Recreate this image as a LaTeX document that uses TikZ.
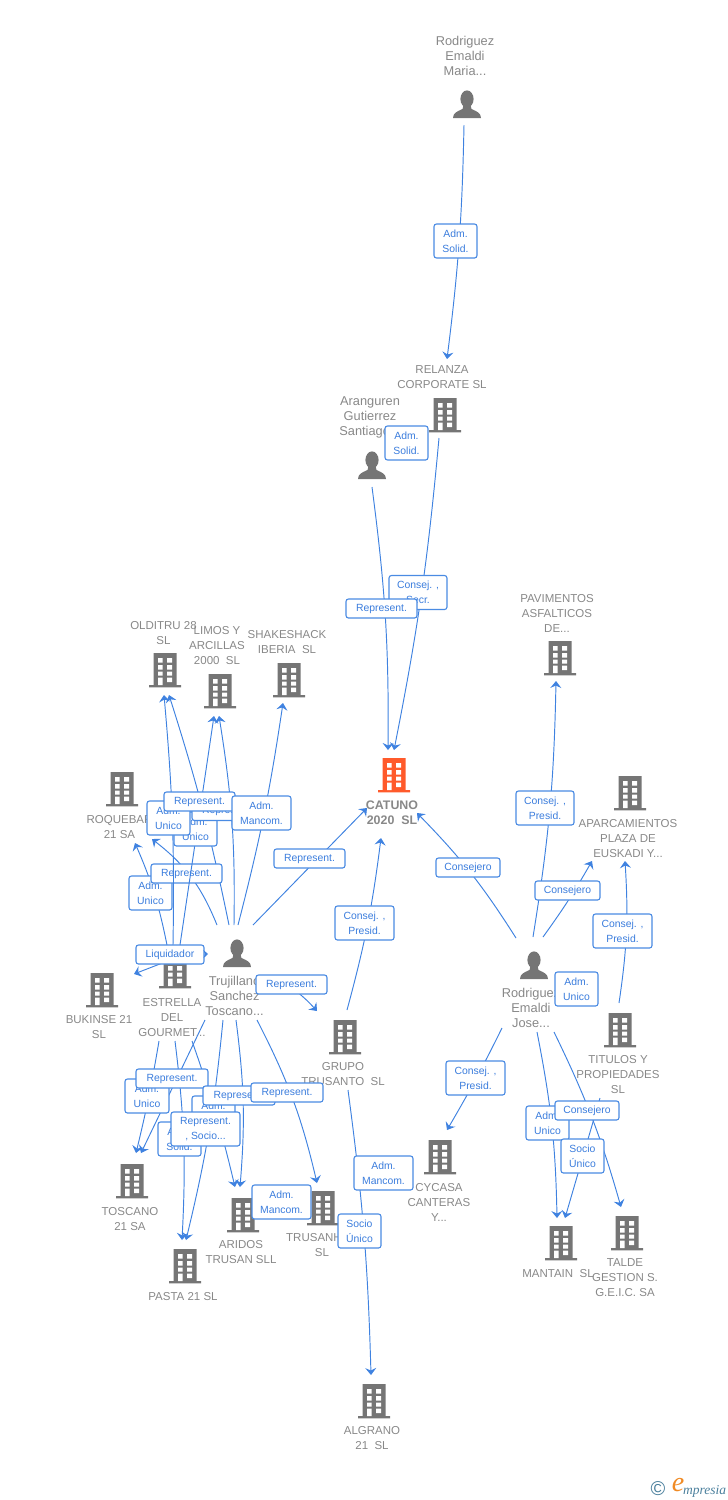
\documentclass[tikz,border=0pt]{standalone}
\usepackage{fontspec}
\setmainfont{Liberation Sans}
\newfontfamily\logofont{Liberation Serif}
\usetikzlibrary{arrows.meta}
\definecolor{iconGray}{HTML}{757575}
\definecolor{nameGray}{HTML}{888888}
\definecolor{linkBlue}{HTML}{3F82E0}
\definecolor{tagText}{HTML}{3B7DDD}
\definecolor{tagLine}{HTML}{4A8BE3}
\definecolor{catunoOrange}{HTML}{FF5A2B}
\definecolor{logoBlue}{HTML}{4A7F9C}
\definecolor{logoOrange}{HTML}{F08A24}
\tikzset{
  building/.style={minimum width=33pt,minimum height=35pt,inner sep=0pt,path picture={
    \begin{scope}[shift={(path picture bounding box.center)}]
    \fill[#1] (-11.5,-17) rectangle (11.5,15) (-16,15) rectangle (16,17.4);
    \fill[white] (-7,-12) rectangle (-2.5,-7.5) (2,-12) rectangle (7,-7.5)
      (-7,-5) rectangle (-2.5,-.5) (2,-5) rectangle (7,-.5)
      (-7,1.5) rectangle (-2.5,5.5) (2,1.5) rectangle (7,5.5)
      (-7,7.5) rectangle (-2.5,15) (2,7.5) rectangle (7,12);
    \end{scope}}},
  building/.default=iconGray,
  person/.style={minimum width=29pt,minimum height=29pt,inner sep=0pt,path picture={
    \begin{scope}[shift={(path picture bounding box.center)}]
    \fill[iconGray] (0,-5) ellipse (6.6 and 8.6);
    \fill[iconGray] (-14,14) .. controls (-14,9) and (-10,7.5) .. (-4.5,5) -- (-3.5,1) -- (3.5,1) -- (4.5,5) .. controls (10,7.5) and (14,9) .. (14,14) -- cycle;
    \end{scope}}},
  caption/.style={text=nameGray,align=center,inner sep=0pt,yshift=-1pt,font=\fontsize{11.5}{15}\selectfont},
  personcaption/.style={caption,yshift=1pt,font=\fontsize{12.8}{15}\selectfont},
  link/.style={draw=linkBlue,line width=.95pt,-{Stealth[length=7pt,width=11pt,inset=2.5pt]}},
  tag/.style={draw=tagLine,fill=white,line width=1.1pt,rounded corners=2.5pt,text=tagText,align=center,
    inner sep=0pt,minimum width=#1,minimum height=19pt,font=\fontsize{10.4}{15}\selectfont},
  tagtall/.style={tag=#1,minimum height=34pt},
}
\begin{document}
\begin{tikzpicture}[x=1pt,y=-1pt]
\useasboundingbox (0,0) rectangle (728,1500);
% people
\node[person] (maria) at (467,104) {};
\node[personcaption] (mariaName) at (465,56) {Rodriguez\\Emaldi\\Maria...};
\node[person] (aranguren) at (372,465) {};
\node[personcaption] (arangurenName) at (370,417) {Aranguren\\Gutierrez\\Santiago...};
\node[person] (trujillano) at (237,953) {};
\node[personcaption] (trujillanoName) at (234.5,996) {Trujillano\\Sanchez\\Toscano...};
\node[person] (jose) at (534,965) {};
\node[personcaption] (joseName) at (531,1008) {Rodriguez\\Emaldi\\Jose...};
% companies
\node[building] (relanza) at (445,415) {};
\node[caption] (relanzaName) at (442,376.5) {RELANZA\\CORPORATE SL};
\node[building=catunoOrange] (catuno) at (394,775) {};
\node[caption,font=\fontsize{12.4}{15}\selectfont\bfseries] (catunoName) at (392,811.5) {CATUNO\\2020\ \ SL};
\node[building] (pavimentos) at (560,658) {};
\node[caption] (pavimentosName) at (557,612) {PAVIMENTOS\\ASFALTICOS\\DE...};
\node[building] (aparcamientos) at (630,793) {};
\node[caption] (aparcamientosName) at (628,838) {APARCAMIENTOS\\PLAZA DE\\EUSKADI Y...};
\node[building] (titulos) at (620,1030) {};
\node[caption] (titulosName) at (618,1074) {TITULOS Y\\PROPIEDADES\\SL};
\node[building] (grupo) at (345,1037) {};
\node[caption] (grupoName) at (343,1073.5) {GRUPO\\TRUSANTO\ \ SL};
\node[building] (cycasa) at (440,1157) {};
\node[caption] (cycasaName) at (439,1201) {CYCASA\\CANTERAS\\Y...};
\node[building] (mantain) at (561,1243) {};
\node[caption] (mantainName) at (558,1273) {MANTAIN\ \ SL};
\node[building] (talde) at (627,1233) {};
\node[caption] (taldeName) at (625,1277) {TALDE\\GESTION S.\\G.E.I.C. SA};
\node[building] (algrano) at (374,1401) {};
\node[caption] (algranoName) at (372,1437.5) {ALGRANO\\21\ \ SL};
\node[building] (trusanh) at (323,1208) {};
\node[caption] (trusanhName) at (322,1244.5) {TRUSANH\phantom{ER}\\SL};
\node[building] (olditru) at (165,670) {};
\node[caption] (olditruName) at (163.5,632.5) {OLDITRU 28\\SL};
\node[building] (limos) at (220,691) {};
\node[caption] (limosName) at (217,645) {LIMOS Y\\ARCILLAS\\2000\ \ SL};
\node[building] (shakeshack) at (289,680) {};
\node[caption] (shakeshackName) at (287,641.5) {SHAKESHACK\\IBERIA\ \ SL};
\node[building] (roquebar) at (122,789) {};
\node[caption] (roquebarName) at (119.5,826.5) {ROQUEBAR\\21 SA};
\node[building] (bukinse) at (102,990) {};
\node[caption] (bukinseName) at (99,1026.5) {BUKINSE 21\\SL};
\node[building] (estrella) at (175,971) {};
\node[caption] (estrellaName) at (172,1017) {ESTRELLA\\DEL\\GOURMET...};
\node[building] (toscano) at (132,1181) {};
\node[caption] (toscanoName) at (130,1218.5) {TOSCANO\\21 SA};
\node[building] (aridos) at (243,1215) {};
\node[caption] (aridosName) at (241,1251.5) {ARIDOS\\TRUSAN SLL};
\node[building] (pasta) at (185,1266) {};
\node[caption] (pastaName) at (183,1296) {PASTA 21 SL};
% free ends of the links
\coordinate (mariaOut) at (464,125);
\coordinate (relanzaIn) at (447,359);
\coordinate (arangurenOut) at (372,487);
\coordinate (relanzaOut) at (439,438);
\coordinate (catunoInA) at (388,750);
\coordinate (catunoInB) at (394,750);
\coordinate (catunoInC) at (367,808);
\coordinate (catunoInD) at (381,838);
\coordinate (catunoInE) at (417,813);
\coordinate (pavimentosIn) at (556,681);
\coordinate (aparcamientosInA) at (592,861);
\coordinate (aparcamientosInB) at (625,861);
\coordinate (titulosTop) at (619,1003);
\coordinate (titulosOut) at (600,1098);
\coordinate (grupoTop) at (347,1010);
\coordinate (grupoOut) at (348,1090);
\coordinate (grupoIn) at (317,1011);
\coordinate (algranoIn) at (371,1375);
\coordinate (joseA) at (516,938);
\coordinate (joseB) at (533,937);
\coordinate (joseC) at (543,937);
\coordinate (joseD) at (502,1028);
\coordinate (joseE) at (537,1032);
\coordinate (joseF) at (554,1032);
\coordinate (cycasaIn) at (447,1130);
\coordinate (mantainInA) at (557,1218);
\coordinate (mantainInB) at (565,1218);
\coordinate (taldeIn) at (621,1207);
\coordinate (truA) at (253,925);
\coordinate (truB) at (238,925);
\coordinate (truC) at (234,925);
\coordinate (truD) at (229,925);
\coordinate (truE) at (217,925);
\coordinate (truF) at (205,1020);
\coordinate (truG) at (223,1020);
\coordinate (truH) at (236,1020);
\coordinate (truI) at (257,1020);
\coordinate (truJ) at (295,990);
\coordinate (estrellaA) at (173,945);
\coordinate (estrellaB) at (180,945);
\coordinate (estrellaC) at (167,945);
\coordinate (estrellaD) at (165,962);
\coordinate (estrellaE) at (159,1041);
\coordinate (estrellaF) at (175,1041);
\coordinate (estrellaG) at (192,1041);
\coordinate (olditruInA) at (164,695);
\coordinate (olditruInB) at (169,695);
\coordinate (limosInA) at (214,716);
\coordinate (limosInB) at (219,716);
\coordinate (shakeshackIn) at (283,703);
\coordinate (roquebarInA) at (135,843);
\coordinate (roquebarInB) at (152,839);
\coordinate (bukinseIn) at (134,974);
\coordinate (toscanoInA) at (136,1153);
\coordinate (toscanoInB) at (141,1153);
\coordinate (pastaInA) at (182,1240);
\coordinate (pastaInB) at (186,1240);
\coordinate (aridosInA) at (235,1187);
\coordinate (aridosInB) at (240,1187);
\coordinate (trusanhIn) at (317,1183);
\coordinate (liquidadorTip) at (208,954);
% right and centre links
\draw[link] (mariaOut) to[bend left=3] (relanzaIn);
\draw[link] (arangurenOut) to[bend left=4] (catunoInA);
\draw[link] (relanzaOut) to[bend left=3] (catunoInB);
\draw[link] (truA) -- (catunoInC);
\draw[link] (grupoTop) to[bend right=4] (catunoInD);
\draw[link] (joseA) to[bend right=6] (catunoInE);
\draw[link] (joseB) to[bend right=4] (pavimentosIn);
\draw[link] (joseC) to[bend right=3] (aparcamientosInA);
\draw[link] (titulosTop) to[bend right=6] (aparcamientosInB);
\draw[link] (joseD) to[bend left=2] (cycasaIn);
\draw[link] (joseE) to[bend left=5] (mantainInA);
\draw[link] (joseF) to[bend left=5] (taldeIn);
\draw[link] (titulosOut) -- (mantainInB);
\draw[link] (grupoOut) to[bend left=3] (algranoIn);
% left links
\draw[link] (truD) to[bend right=3] (olditruInB);
\draw[link] (truC) to[bend right=5] (limosInB);
\draw[link] (truB) to[bend right=3] (shakeshackIn);
\draw[link] (truE) to[bend right=15] (roquebarInB);
\draw[link] (estrellaC) to[bend right=6] (roquebarInA);
\draw[link] (estrellaD) -- (bukinseIn);
\draw[link] (estrellaE) to[bend left=2] (toscanoInA);
\draw[link] (truF) -- (toscanoInB);
\draw[link] (estrellaF) to[bend left=5] (pastaInA);
\draw[link] (truG) to[bend left=4] (pastaInB);
\draw[link] (truH) to[bend left=6] (aridosInB);
\draw[link] (estrellaG) to[bend left=3] (aridosInA);
\draw[link] (truI) to[bend left=7] (trusanhIn);
\draw[link] (truJ) to[bend left=4] (grupoIn);
% tags
\node[tagtall=43] (tagSolidA) at (455.5,241) {Adm.\\Solid.};
\node[tagtall=43] (tagSolidB) at (406.5,443) {Adm.\\Solid.};
\node[tagtall=58] (tagSecr) at (418,592.5) {Consej. ,\\Secr.};
\node[tag=71] (tagRepTop) at (381.5,608.5) {Represent.};
\node[tag=71] (tagRepCatuno) at (309.5,858.5) {Represent.};
\node[tagtall=59] (tagPresidGrupo) at (364.5,923) {Consej. ,\\Presid.};
\node[tag=64] (tagConsejeroA) at (468,867.5) {Consejero};
\node[tagtall=58] (tagPresidPav) at (545,808) {Consej. ,\\Presid.};
\node[tag=65] (tagConsejeroB) at (567.5,890.5) {Consejero};
\node[tagtall=59] (tagPresidAparc) at (622.5,931) {Consej. ,\\Presid.};
\node[tagtall=43] (tagUnicoJose) at (576.5,989) {Adm.\\Unico};
\node[tagtall=59] (tagPresidCycasa) at (475.5,1078) {Consej. ,\\Presid.};
\node[tagtall=43] (tagUnicoMantain) at (547.5,1123) {Adm.\\Unico};
\node[tag=64] (tagConsejeroC) at (587,1110.5) {Consejero};
\node[tagtall=43] (tagSocioMantain) at (582.5,1156) {Socio\\Único};
\node[tagtall=59] (tagMancomGrupo) at (383.5,1173) {Adm.\\Mancom.};
\node[tagtall=43] (tagSocioAlgrano) at (359.5,1231) {Socio\\Único};
\node[tag=71] (tagRepGrupo) at (291.5,984.5) {Represent.};
\node[tagtall=43] (tagUnicoRoq) at (150.5,893) {Adm.\\Unico};
\node[tag=71] (tagRepRoq) at (186.5,873.5) {Represent.};
% these two pass over the tags above
\draw[link] (estrellaA) to[bend right=3] (olditruInA);
\draw[link] (estrellaB) -- (limosInA);
\node[tagtall=43] (tagUnicoBack) at (195.5,829) {Adm.\\Unico};
\node[tag=71] (tagRepBack) at (227.5,811) {Represent.};
\node[tagtall=43] (tagUnicoFront) at (168.5,818) {Adm.\\Unico};
\node[tag=71] (tagRepOlditru) at (199.5,801.5) {Represent.};
\node[tagtall=59] (tagMancomShake) at (261.5,813) {Adm.\\Mancom.};
\node[tag=68] (liquidador) at (170,954.5) {Liquidador};
\draw[link,-{Stealth[length=4.5pt,width=8pt]}] (liquidador) -- (liquidadorTip);
\node[tagtall=44] (tagUnicoToscano) at (147,1096) {Adm.\\Unico};
\node[tag=72] (tagRepToscano) at (172,1078.5) {Represent.};
\node[tagtall=43] (tagSolidPasta) at (179.5,1139) {Adm.\\Solid.};
\node[tagtall=43] (tagAdmAridos) at (213.5,1113) {Adm.\\Unico};
\node[tag=72] (tagRepAridos) at (239,1095.5) {Represent.};
\node[tag=72] (tagRepTrusanh) at (287,1092.5) {Represent.};
\node[tagtall=69] (tagSocioPasta) at (205.5,1129) {Represent.\\, Socio...};
\node[tagtall=59] (tagMancomAridos) at (281.5,1202) {Adm.\\Mancom.};
% logo
\node[text=logoBlue,inner sep=0pt,font=\fontsize{20}{20}\selectfont] (logoC) at (658,1489) {©};
\node[text=logoOrange,inner sep=0pt,font=\logofont\itshape\fontsize{28}{28}\selectfont] (logoE) at (678,1485) {e};
\node[text=logoBlue,inner sep=0pt,anchor=west,font=\logofont\itshape\fontsize{13.5}{14}\selectfont] (logoName) at (683,1491) {mpresia};
\end{tikzpicture}
\end{document}
